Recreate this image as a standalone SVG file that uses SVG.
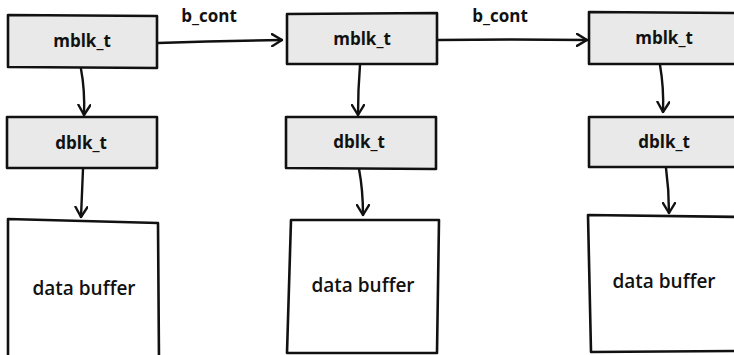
<svg xmlns="http://www.w3.org/2000/svg" width="734" height="355" viewBox="0 0 734 355">
<defs>
<style>
.box{fill:#e8e9e8;stroke:#111;stroke-width:2.6;stroke-linejoin:round}
.buf{fill:#fff;stroke:#111;stroke-width:2.6;stroke-linejoin:round}
.lbl{font-family:"Open Sans","Liberation Sans",sans-serif;font-weight:700;font-size:17px;fill:#111;text-anchor:middle}
.buft{font-family:"Open Sans","Liberation Sans",sans-serif;font-weight:600;font-size:19px;fill:#111;text-anchor:middle}
.edge{fill:none;stroke:#111;stroke-width:2.4;stroke-linecap:round}
</style>
<marker id="arr" viewBox="0 0 12 14" refX="11" refY="7" markerWidth="12" markerHeight="14" markerUnits="userSpaceOnUse" orient="auto">
<path d="M1,1 L11,7 L1,13" fill="none" stroke="#111" stroke-width="2.4" stroke-linecap="round" stroke-linejoin="round"/>
</marker>
</defs>
<rect width="734" height="355" fill="#fff"/>
<g id="connectors">
<path class="edge" d="M158,43 Q220,41 282,40" marker-end="url(#arr)"/>
<path class="edge" d="M438,40 Q510,39 587,40" marker-end="url(#arr)"/>
<path class="edge" d="M81,69 Q85,90 84,115" marker-end="url(#arr)"/>
<path class="edge" d="M360,65 Q358,90 358,115" marker-end="url(#arr)"/>
<path class="edge" d="M660,65 Q664,88 663,112" marker-end="url(#arr)"/>
<path class="edge" d="M83,169 Q82,195 81,217" marker-end="url(#arr)"/>
<path class="edge" d="M359,169 Q363,190 363,215" marker-end="url(#arr)"/>
<path class="edge" d="M666,168 Q669,190 669,213" marker-end="url(#arr)"/>
<text class="lbl" x="209" y="22">b_cont</text>
<text class="lbl" x="500" y="22">b_cont</text>
</g>
<g id="mblk1"><path class="box" d="M8,15 L157,16 L157,68 L8,67 Z"/><text class="lbl" x="82" y="47">mblk_t</text></g>
<g id="dblk1"><path class="box" d="M7,117 L157,117 L157,168 L7,168 Z"/><text class="lbl" x="81" y="149">dblk_t</text></g>
<g id="buf1"><path class="buf" d="M8,219 L158,223 L159,362 L8,362 Z"/><text class="buft" x="84" y="295">data buffer</text></g>
<g id="mblk2"><path class="box" d="M287,14 L437,13 L437,64 L287,64 Z"/><text class="lbl" x="362" y="45">mblk_t</text></g>
<g id="dblk2"><path class="box" d="M286,117 L436,117 L436,169 L286,168 Z"/><text class="lbl" x="359" y="148">dblk_t</text></g>
<g id="buf2"><path class="buf" d="M291,220 L439,220 L437,353 L287,353 Z"/><text class="buft" x="363" y="292">data buffer</text></g>
<g id="mblk3"><path class="box" d="M589,12 L742,13 L742,64 L589,64 Z"/><text class="lbl" x="664" y="44">mblk_t</text></g>
<g id="dblk3"><path class="box" d="M589,117 L742,117 L742,167 L589,167 Z"/><text class="lbl" x="664" y="148">dblk_t</text></g>
<g id="buf3"><path class="buf" d="M588,215 L742,217 L742,351 L591,352 Z"/><text class="buft" x="664" y="288">data buffer</text></g>
</svg>
